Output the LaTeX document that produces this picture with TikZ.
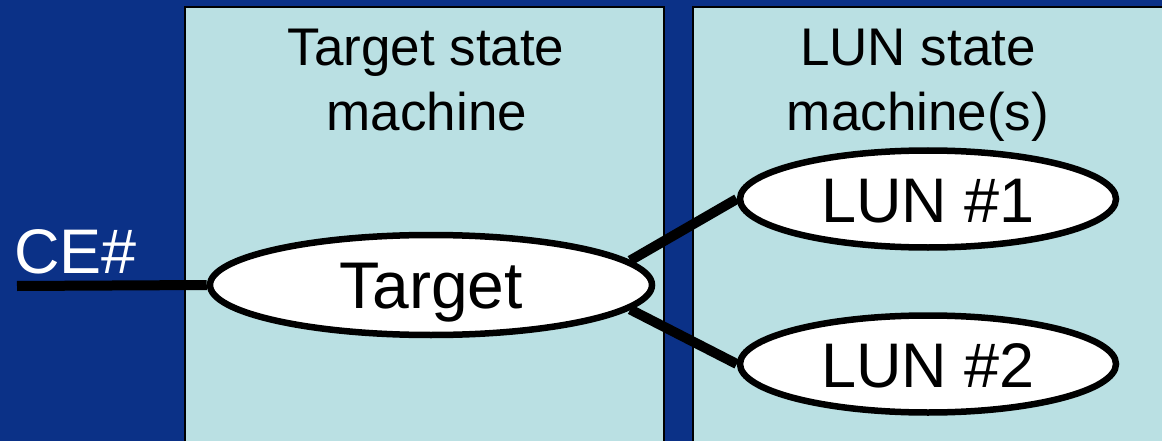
\documentclass[tikz,border=0pt]{standalone}
\usepackage{fontspec}
\setmainfont{Liberation Sans}
\usetikzlibrary{shapes.geometric}
\definecolor{bgblue}{RGB}{11,49,135}
\definecolor{panelcyan}{RGB}{186,224,227}
\tikzset{
  panel/.style={fill=panelcyan, draw=black, line width=1.5pt},
  statenode/.style={ellipse, draw=black, fill=white, line width=6.5pt, inner sep=0pt,
    font=\fontsize{63}{63}\selectfont, text height=52pt, text depth=6pt},
  title/.style={align=center, font=\fontsize{53}{56}\selectfont, anchor=base},
  wire/.style={line width=10pt, draw=black}
}
\begin{document}
\begin{tikzpicture}[x=1pt,y=-1pt]
\clip (0,0) rectangle (1162,441);
\fill[bgblue] (0,0) rectangle (1162,441);
\draw[panel] (185,7) rectangle (664,460);
\draw[panel] (693,7) rectangle (1180,460);
\node[title] (t1) at (426,66) {Target state};
\node[title] (t2) at (427,131) {machine};
\node[title] (l1) at (918,66) {LUN state};
\node[title] (l2) at (918,131) {machine(s)};
\node[anchor=base west, text=white, font=\fontsize{63}{63}\selectfont, inner sep=0pt] (ce) at (14,273) {CE\#};
\coordinate (cestart) at (17,286);
\node[statenode, minimum width=442pt, minimum height=100pt, font=\fontsize{66}{66}\selectfont] (target) at (431,285) {Target};
\node[statenode, minimum width=376pt, minimum height=97pt] (lun1) at (928,199) {LUN \#1};
\node[statenode, minimum width=376pt, minimum height=97pt] (lun2) at (928,364) {LUN \#2};
\draw[wire] (cestart) -- (target.west);
\draw[wire] (target.7) -- (lun1.west);
\draw[wire] (target.-7) -- (lun2.west);
\end{tikzpicture}
\end{document}
